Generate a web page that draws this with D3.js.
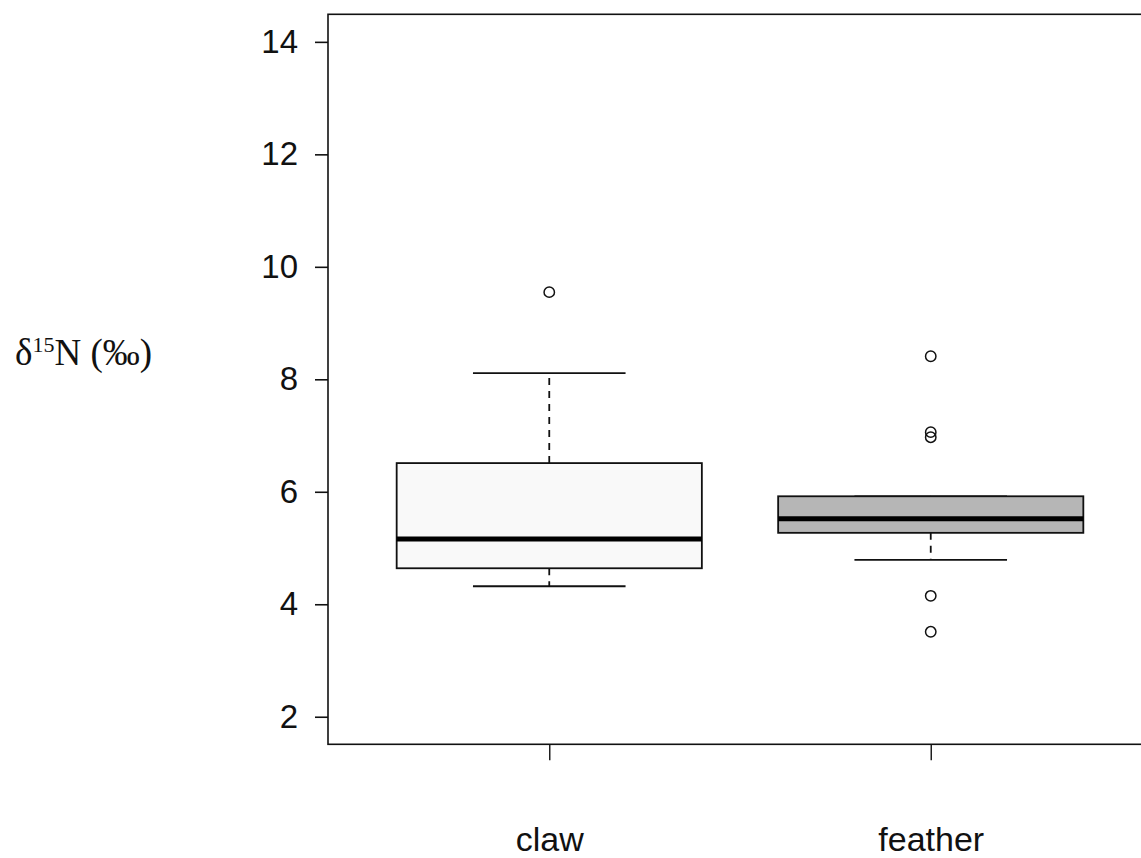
<!DOCTYPE html>
<html>
<head>
<meta charset="utf-8">
<script src="https://cdn.jsdelivr.net/npm/d3@7"></script>
<style>
  html, body { margin: 0; padding: 0; background: #fff; }
  svg { display: block; }
</style>
</head>
<body>
<svg id="chart" width="1141" height="858"></svg>
<script>
// Tissue groups and their box-and-whisker summaries (δ15N, ‰)
const categories = ["claw", "feather"];
const lowerWhisker = [4.32, 4.79];
const q1 = [4.64, 5.27];
const median = [5.16, 5.52];
const q3 = [6.51, 5.92];
const upperWhisker = [8.11, 5.92];
const outliers = [
  [9.55],
  [8.41, 7.06, 6.97, 4.15, 3.51]
];
const boxFills = ["#f9f9f9", "#b6b6b6"];
const yTicks = [2, 4, 6, 8, 10, 12, 14];

const svg = d3.select("#chart");

// Group positions run 1..n; the plot region spans 0.42..2.58 group units
const x = d3.scaleLinear().domain([0.42, 2.58]).range([328, 1152]);
const y = d3.scaleLinear().domain([1.51, 14.49]).range([744.3, 14.3]);

const plotLeft = x.range()[0], plotRight = x.range()[1];
const plotTop = y.range()[1], plotBottom = y.range()[0];

const boxHalf = x(1.4) - x(1);   // box width 0.8 group units
const capHalf = x(1.2) - x(1);   // whisker cap width 0.4 units

// Plot frame
svg.append("rect")
  .attr("x", plotLeft).attr("y", plotTop)
  .attr("width", plotRight - plotLeft).attr("height", plotBottom - plotTop)
  .attr("fill", "none").attr("stroke", "#111").attr("stroke-width", 1.6);

// Y axis
const yAxis = d3.axisLeft(y).tickValues(yTicks).tickSize(13).tickPadding(17)
  .tickFormat(d3.format("d"));
const gy = svg.append("g").attr("transform", `translate(${plotLeft},0)`).call(yAxis);
gy.select(".domain").remove();
gy.selectAll(".tick line").attr("stroke", "#111").attr("stroke-width", 1.6);
gy.selectAll(".tick text")
  .attr("fill", "#111")
  .style("font-family", "Arial, 'Liberation Sans', sans-serif")
  .style("font-size", "33px");

// X axis
const xAxis = d3.axisBottom(x).tickValues([1, 2]).tickSize(16).tickPadding(67)
  .tickFormat(i => categories[i - 1]);
const gx = svg.append("g").attr("transform", `translate(0,${plotBottom})`).call(xAxis);
gx.select(".domain").remove();
gx.selectAll(".tick line").attr("stroke", "#111").attr("stroke-width", 1.4);
gx.selectAll(".tick text")
  .attr("fill", "#111")
  .style("font-family", "Arial, 'Liberation Sans', sans-serif")
  .style("font-size", "34px");

// Boxes
const groups = svg.append("g").selectAll("g")
  .data(categories.map((c, i) => ({
    c, i, cx: x(i + 1),
    lw: lowerWhisker[i], q1: q1[i], med: median[i], q3: q3[i], uw: upperWhisker[i],
    out: outliers[i], fill: boxFills[i]
  })))
  .join("g");

// whiskers (dashed)
groups.append("line")
  .attr("x1", d => d.cx).attr("x2", d => d.cx)
  .attr("y1", d => y(d.q3)).attr("y2", d => y(d.uw))
  .attr("stroke", "#111").attr("stroke-width", 1.8).attr("stroke-dasharray", "7,6");
groups.append("line")
  .attr("x1", d => d.cx).attr("x2", d => d.cx)
  .attr("y1", d => y(d.q1)).attr("y2", d => y(d.lw))
  .attr("stroke", "#111").attr("stroke-width", 1.8).attr("stroke-dasharray", "7,6");

// whisker caps
groups.append("line")
  .attr("x1", d => d.cx - capHalf).attr("x2", d => d.cx + capHalf)
  .attr("y1", d => y(d.uw)).attr("y2", d => y(d.uw))
  .attr("stroke", "#111").attr("stroke-width", 1.8);
groups.append("line")
  .attr("x1", d => d.cx - capHalf).attr("x2", d => d.cx + capHalf)
  .attr("y1", d => y(d.lw)).attr("y2", d => y(d.lw))
  .attr("stroke", "#111").attr("stroke-width", 1.8);

// interquartile box
groups.append("rect")
  .attr("x", d => d.cx - boxHalf).attr("width", boxHalf * 2)
  .attr("y", d => y(d.q3)).attr("height", d => y(d.q1) - y(d.q3))
  .attr("fill", d => d.fill).attr("stroke", "#111").attr("stroke-width", 1.8);

// median
groups.append("line")
  .attr("x1", d => d.cx - boxHalf).attr("x2", d => d.cx + boxHalf)
  .attr("y1", d => y(d.med)).attr("y2", d => y(d.med))
  .attr("stroke", "#000").attr("stroke-width", 5);

// outliers
groups.selectAll("circle")
  .data(d => d.out.map(v => ({ v, cx: d.cx })))
  .join("circle")
  .attr("cx", d => d.cx).attr("cy", d => y(d.v)).attr("r", 5.2)
  .attr("fill", "none").attr("stroke", "#111").attr("stroke-width", 1.5);

// Y label: δ15N (‰)
const ylab = svg.append("text")
  .attr("x", 15).attr("y", 365)
  .attr("fill", "#111")
  .style("font-family", "'Times New Roman', 'Liberation Serif', serif")
  .style("font-size", "37px");
ylab.append("tspan").text("δ");
ylab.append("tspan").attr("dy", -13).style("font-size", "22px").text("15");
ylab.append("tspan").attr("dy", 13).text("N (‰)");
</script>
</body>
</html>
